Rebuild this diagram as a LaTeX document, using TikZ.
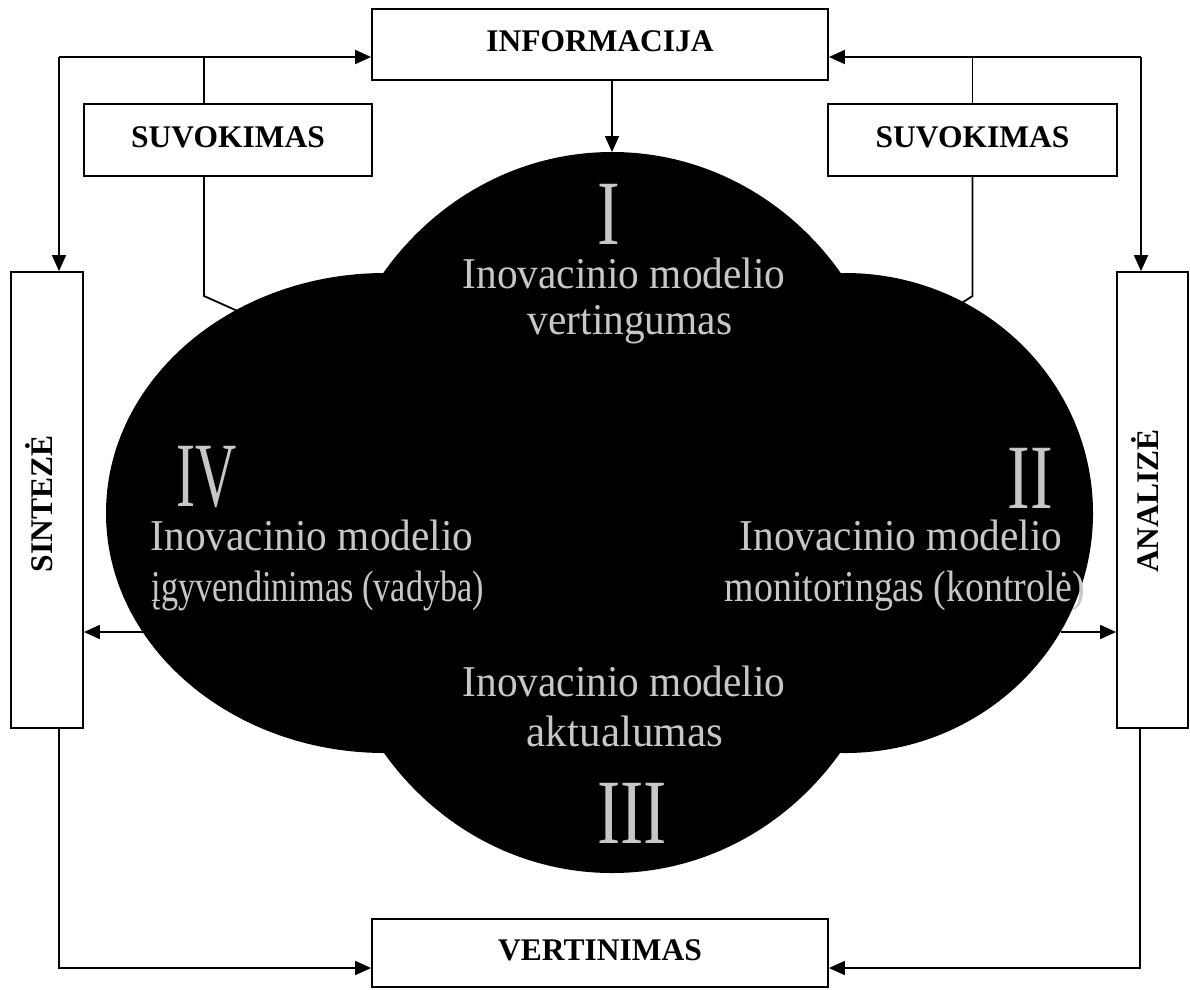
\documentclass[tikz,border=0pt]{standalone}
\usepackage{fontspec}
\setmainfont{Liberation Serif}
\usepackage{graphicx}
\usetikzlibrary{arrows.meta}

\newcommand{\lineW}{1.8pt}
\newcommand{\boxFont}{\fontsize{31.5}{36}\selectfont\bfseries}
\newcommand{\cloudFont}{\fontsize{44}{50}\selectfont}
\newcommand{\romanFont}{\fontsize{92}{100}\selectfont}
\newcommand{\squeeze}[2]{\scalebox{#1}[1]{#2}}
\newcommand{\cloudX}{612}
\newcommand{\sideArrowY}{632}
\newcommand{\topLineY}{57}
\newcommand{\bottomLineY}{968}
\newcommand{\leftLineX}{59}
\newcommand{\rightLineX}{1141}

\tikzset{
  box/.style={draw, line width=\lineW, fill=white, inner sep=0pt, font=\boxFont, text height=22pt, text depth=8pt},
  boxlabel/.style={font=\boxFont, inner sep=0pt, rotate=90, anchor=base},
  conn/.style={line width=\lineW},
  arr/.style={line width=\lineW, -{Triangle[length=16pt,width=14pt]}},
  cloudtext/.style={text=white!78!black, font=\cloudFont, anchor=base, inner sep=0pt},
  romantext/.style={text=white!78!black, font=\romanFont, anchor=base, inner sep=0pt}
}

\begin{document}
\begin{tikzpicture}[x=1pt, y=-1pt]
    \useasboundingbox (0,0) rectangle (1190,989);

    % Cloud
    \fill[black] (\cloudX,452) ellipse [x radius=285, y radius=300];
    \fill[black] (\cloudX,573) ellipse [x radius=285, y radius=300];
    \fill[black] (385,513) ellipse [x radius=279, y radius=240];
    \fill[black] (845,513) ellipse [x radius=248, y radius=240];

    % Cloud texts
    \node[romantext] (numI) at (609,244) {\squeeze{0.74}{I}};
    \node[cloudtext] (topA) at (624,288) {\squeeze{0.94}{Inovacinio modelio}};
    \node[cloudtext] (topB) at (630,334) {\squeeze{0.94}{vertingumas}};
    \node[romantext] (numIV) at (207,506) {\squeeze{0.62}{IV}};
    \node[cloudtext] (leftA) at (312,550) {\squeeze{0.94}{Inovacinio modelio}};
    \node[cloudtext] (leftB) at (318,601) {\squeeze{0.78}{įgyvendinimas (vadyba)}};
    \node[romantext] (numII) at (1030,508) {\squeeze{0.74}{II}};
    \node[cloudtext] (rightA) at (901,550) {\squeeze{0.94}{Inovacinio modelio}};
    \node[cloudtext] (rightB) at (905,601) {\squeeze{0.86}{monitoringas (kontrolė)}};
    \node[cloudtext] (botA) at (624,696) {\squeeze{0.94}{Inovacinio modelio}};
    \node[cloudtext] (botB) at (625,746) {\squeeze{0.98}{aktualumas}};
    \node[romantext] (numIII) at (632,843) {\squeeze{0.76}{III}};

    % Boxes
    \node[box, minimum width=456pt, minimum height=71pt] (info) at (600,44.5) {INFORMACIJA};
    \node[box, minimum width=288pt, minimum height=72pt] (suvL) at (228,140) {SUVOKIMAS};
    \node[box, minimum width=289pt, minimum height=72pt] (suvR) at (972.5,140) {SUVOKIMAS};
    \node[box, minimum width=72pt, minimum height=456pt] (sint) at (47,500) {};
    \node[box, minimum width=71pt, minimum height=456pt] (anal) at (1152.5,500) {};
    \node[box, minimum width=456pt, minimum height=68pt] (vert) at (600,953) {VERTINIMAS};
    \node[boxlabel] (sintLabel) at (52,504) {SINTEZĖ};
    \node[boxlabel] (analLabel) at (1158,501) {ANALIZĖ};

    % Top feedback lines
    \coordinate (topLeft) at (\leftLineX,\topLineY);
    \coordinate (topRight) at (\rightLineX,\topLineY);
    \coordinate (suvLJoin) at (204,\topLineY);
    \coordinate (suvLBend) at (204,296);
    \coordinate (suvLEnd) at (260,321);
    \coordinate (suvRBend) at (972.5,296);
    \coordinate (suvREnd) at (940,317);
    \draw[arr] (topLeft) -- (topLeft -| info.west);
    \draw[arr] (topLeft) -- (topLeft |- sint.north);
    \draw[conn] (suvLJoin |- suvL.north) -- (suvLJoin);
    \draw[conn] (suvLJoin |- suvL.south) -- (suvLBend) -- (suvLEnd);
    \draw[arr] (topRight) -- (topRight -| info.east);
    \draw[arr] (topRight) -- (topRight |- anal.north);
    \draw[conn] (suvR.north) -- (suvR.north |- topRight);
    \draw[conn] (suvR.south) -- (suvRBend) -- (suvREnd);

    % Information into the cloud
    \coordinate (cloudTop) at (\cloudX,152);
    \draw[arr] (cloudTop |- info.south) -- (cloudTop);

    % Cloud to synthesis and analysis
    \coordinate (cloudLeft) at (143,\sideArrowY);
    \coordinate (cloudRight) at (1061,\sideArrowY);
    \draw[arr] (cloudLeft) -- (cloudLeft -| sint.east);
    \draw[arr] (cloudRight) -- (cloudRight -| anal.west);

    % Bottom lines to evaluation
    \coordinate (botLeft) at (\leftLineX,\bottomLineY);
    \coordinate (botRight) at (1140,\bottomLineY);
    \draw[arr] (botLeft |- sint.south) -- (botLeft) -- (botLeft -| vert.west);
    \draw[arr] (botRight |- anal.south) -- (botRight) -- (botRight -| vert.east);
\end{tikzpicture}
\end{document}
